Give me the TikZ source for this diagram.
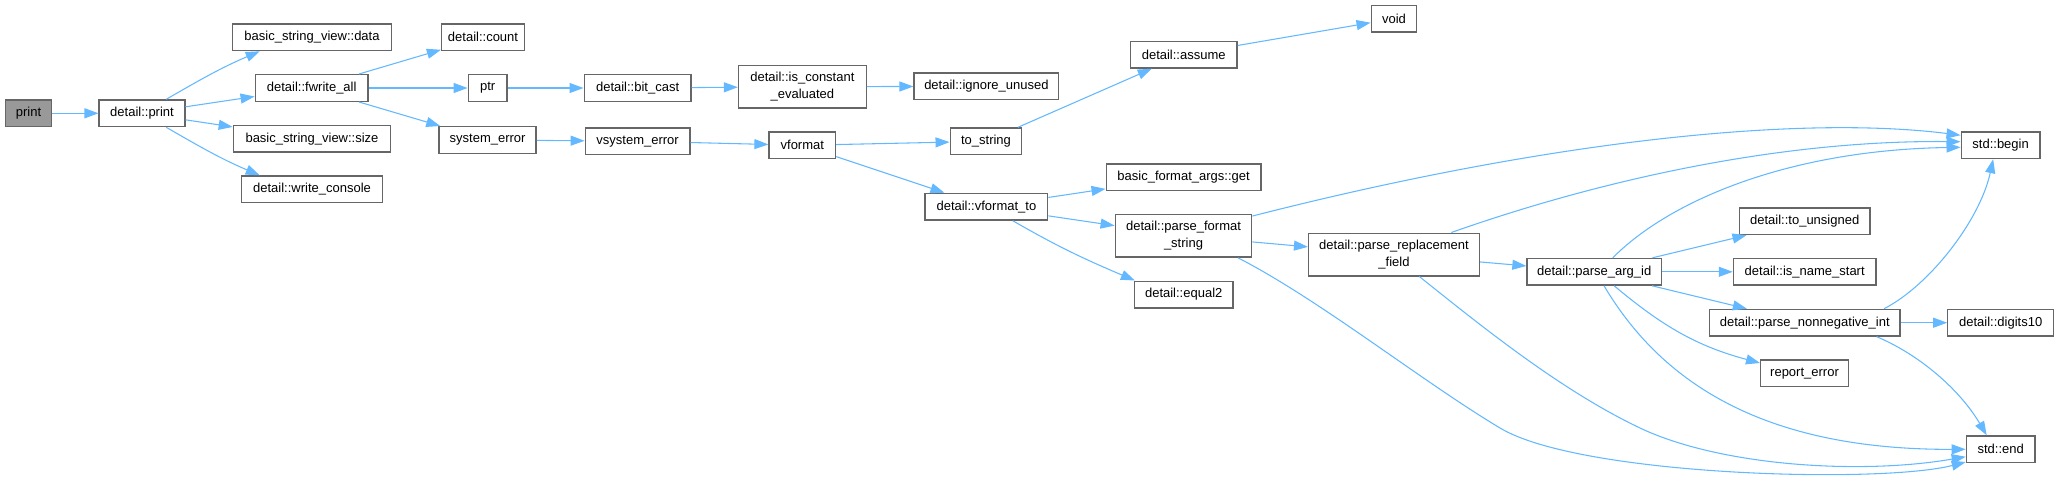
\documentclass[tikz,border=0pt]{standalone}
\usepackage{fontspec}
\setmainfont{Liberation Sans}
\usepackage{tikz}
\usetikzlibrary{arrows.meta}

\definecolor{edgeblue}{HTML}{63B8FF}
\definecolor{boxgray}{HTML}{666666}
\definecolor{rootgray}{HTML}{999999}

\begin{document}
\begin{tikzpicture}[x=0.75pt,y=-0.75pt,
	fn/.style={draw=boxgray,line width=1pt,fill=white,inner sep=0pt,minimum height=20pt,align=center,font=\fontsize{9.75}{12.5}\selectfont},
	two/.style={minimum height=32pt},
	wd/.style={minimum width=#1*0.75pt},
	call/.style={draw=edgeblue,line width=0.8pt,-{Triangle[length=10.5pt,width=7.5pt]}}]
			\useasboundingbox (0,0) rectangle (2059,486);
			% functions, one box each
			\node[fn,wd=46.5,fill=rootgray] (print) at (28.5,113.3) {print};
			\foreach \n/\x/\y/\w/\t in {
				dprint/142/113.3/85.7/detail::print,
				data/312/37.3/158.4/basic\_string\_view::data,
				fwrite/311.7/88/112.9/detail::fwrite\_all,
				size/312/138.8/157.3/basic\_string\_view::size,
				wcons/312/189.3/140.5/detail::write\_console,
				count/483/37.3/82.9/detail::count,
				ptr/487.7/88/38.9/ptr,
				syserr/487.6/140/97.1/system\_error,
				bitcast/637.6/88/106.8/detail::bit\_cast,
				vsyserr/637.6/141.2/104.7/vsystem\_error,
				vformat/802.3/145.3/66.5/vformat,
				ignore/986.4/86.3/144.7/detail::ignore\_unused,
				tostr/986/141.3/71.6/to\_string,
				vfto/986.4/206.7/122.7/detail::vformat\_to,
				assume/1183.7/54.7/106.7/detail::assume,
				getarg/1183.6/177.2/154.8/basic\_format\_args::get,
				equal/1183.7/294.5/98.5/detail::equal2,
				void/1394/18.7/45.6/void,
				pai/1594.2/271.8/134.4/detail::parse\_arg\_id,
				tounsig/1804.7/221.2/130.7/detail::to\_unsigned,
				isname/1804.7/271.8/142.6/detail::is\_name\_start,
				pni/1804.7/322.7/190.3/detail::parse\_nonnegative\_int,
				report/1804.5/373.3/87.7/report\_error,
				begin/2000.6/145.2/78.8/std::begin,
				digits/2000.7/322.7/105.8/detail::digits10,
				stdend/2000.7/449.3/68.7/std::end}{
				\node[fn,wd=\w] (\n) at (\x,\y) {\t};
			}
			\node[fn,two,wd=127.8] (isconst) at (802.4,86.7) {detail::is\_constant\\\_evaluated};
			\node[fn,two,wd=136.5] (pfs) at (1183.5,235.8) {detail::parse\_format\\\_string};
			\node[fn,two,wd=170.8] (prf) at (1394,254.5) {detail::parse\_replacement\\\_field};
			% calls
			\foreach \a/\b in {print/dprint,dprint/fwrite,dprint/size,fwrite/count,fwrite/ptr,fwrite/syserr,
				ptr/bitcast,bitcast/isconst,isconst/ignore,syserr/vsyserr,vsyserr/vformat,vformat/tostr,
				vformat/vfto,tostr/assume,assume/void,vfto/getarg,vfto/pfs,pfs/prf,prf/pai,
				pai/tounsig,pai/isname,pai/pni,pni/digits}{
				\draw[call] (\a) -- (\b);
			}
			\draw[call] (dprint.30) to[out=30,in=203] (data.195);
			\draw[call] (dprint.-30) to[out=-30,in=157] (wcons.165);
			\draw[call] (vfto.-28) to[out=-30,in=157] (equal.164);
			\draw[call] (pai.-35) to[out=-40,in=165] (report.167);
			\draw[call] (pfs.16) .. controls (1550,140) and (1800,115) .. (begin.166);
			\draw[call] (prf.21) .. controls (1600,180) and (1780,140) .. (begin.175);
			\draw[call] (pai.37) .. controls (1670,200) and (1790,150) .. (begin.183);
			\draw[call] (pni.10) .. controls (1930,285) and (1980,220) .. (begin.-118);
			\draw[call] (pfs.-22) .. controls (1320,300) and (1420,380) .. (1500,428) .. controls (1580,476) and (1880,484) .. (stdend.200);
			\draw[call] (prf.-41) .. controls (1480,325) and (1560,390) .. (1640,428) .. controls (1720,466) and (1860,475) .. (stdend.192);
			\draw[call] (pai.-55) .. controls (1660,380) and (1760,450) .. (stdend.west);
			\draw[call] (pni.-11) .. controls (1920,355) and (1960,390) .. (stdend.135);
		\end{tikzpicture}
\end{document}
